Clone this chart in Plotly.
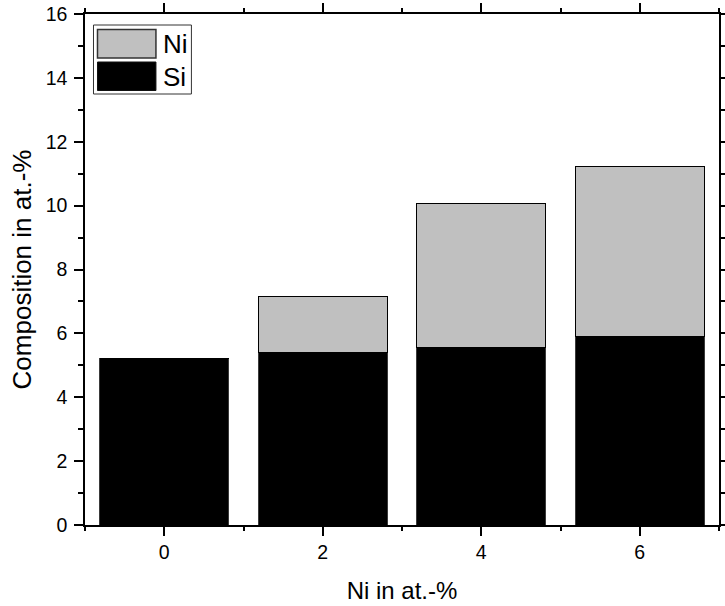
import plotly.graph_objects as go

categories = [0, 2, 4, 6]
si_values = [5.2, 5.4, 5.55, 5.9]
ni_values = [0.0, 1.77, 4.51, 5.34]
x_ticks = [0, 2, 4, 6]
y_ticks = [0, 2, 4, 6, 8, 10, 12, 14, 16]

FONT = "Liberation Sans"
line_col = "#3a3a3a"

fig = go.Figure()
fig.add_trace(go.Bar(x=categories, y=si_values, name="Si", width=1.63,
                     marker=dict(color="black", line=dict(color=line_col, width=1)),
                     showlegend=False))
fig.add_trace(go.Bar(x=categories, y=ni_values, name="Ni", width=1.63,
                     marker=dict(color="#c0c0c0", line=dict(color="black", width=1)),
                     showlegend=False))

# plot area target in page px
PL, PR, PT, PB = 84.5, 719, 14, 525
W, H = 725, 606
L = PR - PL
T = PB - PT
def px_x(px):
    return (px - PL) / L
def px_y(py):
    return 1 - (py - PT) / T

shapes = [
    dict(type="rect", xref="paper", yref="paper", x0=px_x(93), x1=px_x(191), y0=px_y(94), y1=px_y(25),
         line=dict(color="#333", width=1), fillcolor="white"),
    dict(type="rect", xref="paper", yref="paper", x0=px_x(97), x1=px_x(155.5), y0=px_y(58), y1=px_y(29.5),
         line=dict(color="#333", width=1.5), fillcolor="#c0c0c0"),
    dict(type="rect", xref="paper", yref="paper", x0=px_x(97), x1=px_x(155.5), y0=px_y(90.5), y1=px_y(62),
         line=dict(color="#111", width=1), fillcolor="black"),
]
annotations = [
    dict(xref="paper", yref="paper", x=px_x(161), y=px_y(44), text="Ni", showarrow=False,
         xanchor="left", yanchor="middle", font=dict(family=FONT, size=26, color="black")),
    dict(xref="paper", yref="paper", x=px_x(161), y=px_y(77), text="Si", showarrow=False,
         xanchor="left", yanchor="middle", font=dict(family=FONT, size=26, color="black")),
]

axis_common = dict(showline=True, linecolor="black", linewidth=1.5, mirror="allticks",
                   ticks="outside", ticklen=9, tickwidth=1.5, tickcolor="black",
                   showgrid=False, zeroline=False, automargin=False,
                   tickfont=dict(family=FONT, size=19.5, color="black"))

fig.update_layout(
    barmode="stack",
    width=W, height=H,
    margin=dict(l=PL, r=W - PR, t=PT, b=H - PB),
    plot_bgcolor="white", paper_bgcolor="white",
    shapes=shapes, annotations=annotations,
    xaxis=dict(range=[-1, 7], tickvals=x_ticks,
               title=dict(text="Ni in at.-%", font=dict(family=FONT, size=24, color="black"), standoff=20),
               minor=dict(dtick=1, tick0=0, ticks="outside", ticklen=4, tickwidth=1.5, tickcolor="black"),
               **axis_common),
    yaxis=dict(range=[0, 16], tickvals=y_ticks, ticklabelstandoff=3,
               title=dict(text="Composition in at.-%", font=dict(family=FONT, size=26, color="black"), standoff=7),
               minor=dict(dtick=1, tick0=0, ticks="outside", ticklen=5, tickwidth=1.5, tickcolor="black"),
               **axis_common),
)

fig.write_html("out.html", config={"displayModeBar": False},
               post_script="document.body.style.margin='0';document.body.style.overflow='hidden';")
